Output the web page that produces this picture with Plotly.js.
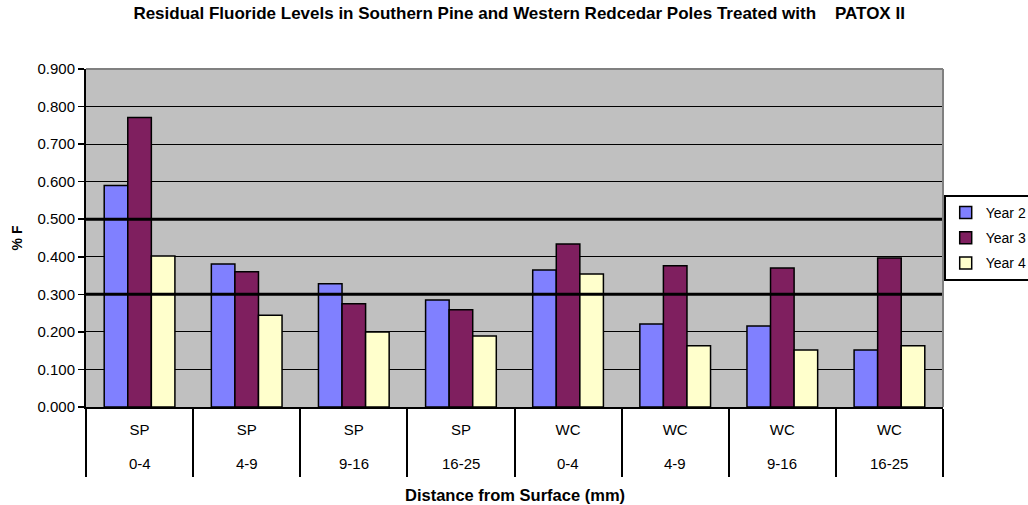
<!DOCTYPE html>
<html>
<head>
<meta charset="utf-8">
<script src="https://cdn.plot.ly/plotly-3.0.1.min.js"></script>
<style>html,body{margin:0;padding:0;background:#fff;}#chart{width:1028px;height:505px;}</style>
</head>
<body>
<div id="chart"></div>
<script>
var species = ["SP", "SP", "SP", "SP", "WC", "WC", "WC", "WC"];
var ranges = ["0-4", "4-9", "9-16", "16-25", "0-4", "4-9", "9-16", "16-25"];
var year2 = [0.590, 0.381, 0.328, 0.285, 0.365, 0.221, 0.216, 0.152];
var year3 = [0.771, 0.360, 0.275, 0.259, 0.434, 0.376, 0.370, 0.397];
var year4 = [0.402, 0.244, 0.200, 0.189, 0.354, 0.163, 0.152, 0.163];
var seriesNames = ["Year 2", "Year 3", "Year 4"];
var referenceLevels = [0.3, 0.5];
var yTicks = [0, 0.1, 0.2, 0.3, 0.4, 0.5, 0.6, 0.7, 0.8, 0.9];

var labels = species.map(function (s, i) { return s + " " + ranges[i]; });
var colors = ["#8080FF", "#7F1F5F", "#FFFFCC"];
var values = [year2, year3, year4];

var FONT = "Liberation Sans, Arial, sans-serif";

var traces = values.map(function (v, k) {
  return {
    type: "bar",
    name: seriesNames[k],
    legendgroup: "g" + k,
    x: labels,
    y: v,
    marker: { color: colors[k], line: { color: "#000", width: 1.5 } },
    hoverinfo: "x+y+name"
  };
});

var shapes = referenceLevels.map(function (lv) {
  return { type: "line", xref: "paper", yref: "y", x0: 0, x1: 1, y0: lv, y1: lv,
           line: { color: "#000", width: 3 }, layer: "above" };
});
shapes.push({ type: "line", xref: "paper", yref: "paper", x0: 0, x1: 1, y0: 1, y1: 1,
              line: { color: "#808080", width: 2 }, layer: "above" });
shapes.push({ type: "line", xref: "paper", yref: "paper", x0: 1, x1: 1, y0: 0, y1: 1,
              line: { color: "#808080", width: 2 }, layer: "above" });

var annotations = ranges.map(function (r, i) {
  return {
    text: r, xref: "x", yref: "paper", x: labels[i], y: (407 - 463) / 338,
    xanchor: "center", yanchor: "middle", showarrow: false,
    font: { family: FONT, size: 15, color: "#000" }
  };
});
annotations.push({
  text: "<b>Distance from Surface (mm)</b>",
  xref: "paper", yref: "paper", x: 0.5, y: (407 - 495) / 338,
  xanchor: "center", yanchor: "middle", showarrow: false,
  font: { family: FONT, size: 16.5, color: "#000" }
});

var layout = {
  width: 1028, height: 505,
  margin: { l: 86, r: 85, t: 69, b: 98 },
  paper_bgcolor: "#fff",
  plot_bgcolor: "#C0C0C0",
  font: { family: FONT, size: 15, color: "#000" },
  title: {
    text: "<b>Residual Fluoride Levels in Southern Pine and Western Redcedar Poles Treated with \u00a0\u00a0\u00a0PATOX II</b>",
    font: { family: FONT, size: 17, color: "#000" },
    xref: "container", x: 0.505, xanchor: "center",
    yref: "container", y: 0.974, yanchor: "middle"
  },
  barmode: "group",
  bargap: 0.34,
  bargroupgap: 0,
  showlegend: true,
  legend: {
    xref: "container", yref: "container",
    x: 0.918, xanchor: "left", y: 0.614, yanchor: "top",
    bgcolor: "#fff", bordercolor: "#000", borderwidth: 2,
    font: { family: FONT, size: 14, color: "#000" },
    tracegroupgap: 4
  },
  xaxis: {
    type: "category",
    categoryorder: "array", categoryarray: labels,
    tickmode: "array", tickvals: labels, ticktext: species,
    tickson: "boundaries",
    ticks: "outside", ticklen: 68, tickwidth: 2, tickcolor: "#000",
    ticklabelstandoff: 8,
    showline: true, linecolor: "#000", linewidth: 2,
    showgrid: false, zeroline: false,
    tickfont: { family: FONT, size: 15, color: "#000" },
    automargin: false
  },
  yaxis: {
    range: [0, 0.9],
    tickvals: yTicks,
    tickformat: ".3f",
    ticks: "outside", ticklen: 6, tickwidth: 1.5, tickcolor: "#000",
    showline: true, linecolor: "#000", linewidth: 2,
    showgrid: true, gridcolor: "#000", gridwidth: 1,
    zeroline: false,
    tickfont: { family: FONT, size: 15, color: "#000" },
    title: { text: "<b>% F</b>", font: { family: FONT, size: 14, color: "#000" }, standoff: 12 },
    automargin: false
  },
  annotations: annotations,
  shapes: shapes
};

Plotly.newPlot("chart", traces, layout, { displayModeBar: false, staticPlot: true });
</script>
</body>
</html>
